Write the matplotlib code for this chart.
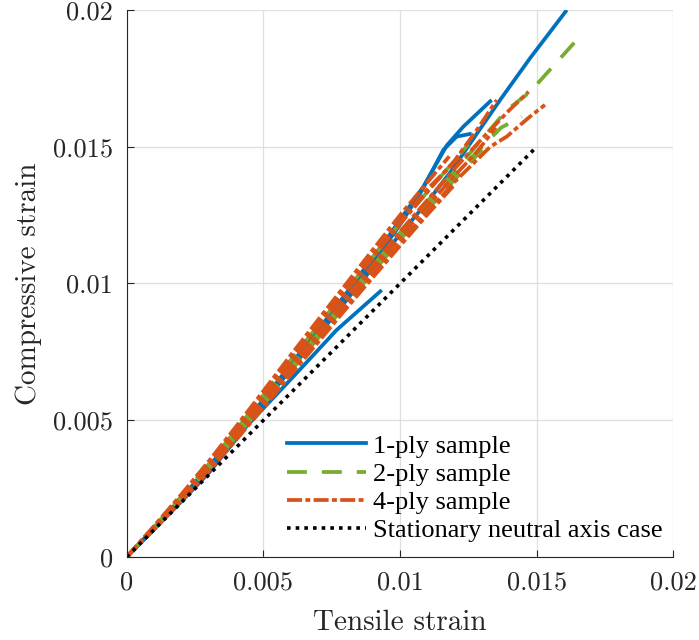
import numpy as np
import matplotlib
matplotlib.use('Agg')
import matplotlib.pyplot as plt
from matplotlib.lines import Line2D

# ---- data (tensile strain, compressive strain) ----
# 1-ply samples
ply1_x = [
    [0, .001, .002, .003, .0044, .0061, .00768, .00933],
    [0, .001, .002, .003, .004, .005, .006, .007, .008, .009, .010, .011, .0119, .0129, .01366, .01475, .0161],
    [0, .001, .002, .003, .004, .005, .006, .007, .008, .009, .00963, .01085, .01171, .01231, .01335],
    [0, .001, .002, .003, .004, .005, .006, .007, .008, .009, .010, .0108, .01158, .01207, .01262],
]
ply1_y = [
    [0, .00101, .00203, .00307, .0048, .0066, .0083, .00976],
    [0, .00104, .0021, .00322, .00442, .00562, .00686, .0081, .00934, .01058, .0118, .01298, .01415, .01561, .01671, .01823, .0200],
    [0, .00106, .00216, .0033, .00452, .00576, .00704, .0083, .0096, .01095, .0118, .01354, .01505, .01573, .01671],
    [0, .00104, .00212, .00324, .00446, .0057, .00696, .0082, .00948, .01075, .01215, .0134, .01488, .01537, .01548],
]

# 2-ply samples
ply2_x = [
    [0, .001, .002, .003, .004, .005, .006, .007, .008, .009, .010, .011, .012, .013, .0139, .01475, .01655],
    [0, .001, .002, .003, .004, .005, .006, .007, .008, .009, .010, .011, .012, .013, .0137, .01445],
    [0, .001, .002, .003, .004, .005, .006, .007, .008, .009, .010, .011, .012, .0125],
    [0, .001, .002, .003, .004, .005, .006, .007, .008, .009, .010, .011, .012, .013],
]
ply2_y = [
    [0, .00105, .00213, .00326, .00448, .0057, .00694, .00818, .00942, .01064, .01186, .013, .01412, .01528, .01634, .017, .019],
    [0, .00104, .00211, .00323, .00444, .00564, .00688, .0081, .00932, .01054, .01174, .01288, .01398, .0150, .0157, .0161],
    [0, .0011, .00222, .0034, .00465, .00592, .0072, .00846, .0097, .01096, .0122, .01335, .0145, .0151],
    [0, .00103, .00209, .0032, .00438, .00557, .0068, .008, .0092, .0104, .0116, .0127, .0138, .0149],
]

# 4-ply samples
ply4_x = [
    [0, .001, .002, .003, .004, .005, .006, .007, .008, .009, .010, .011, .012, .0133, .0139, .01475, .0153],
    [0, .001, .002, .003, .004, .005, .006, .007, .008, .009, .010, .011, .012, .013, .014, .0147],
    [0, .001, .002, .003, .004, .005, .006, .007, .008, .009, .010, .011, .012, .0128, .01354],
    [0, .001, .002, .003, .004, .005, .006, .007, .008, .009, .010, .011, .012, .0128, .0135],
    [0, .001, .002, .003, .004, .005, .006, .007, .008, .009, .010, .011, .0122],
    [0, .001, .002, .003, .004, .005, .006, .007, .008, .009, .010, .011, .012],
    [0, .001, .002, .003, .004, .005, .006, .007, .008, .009, .010, .011, .0118],
]
ply4_y = [
    [0, .00102, .00208, .00318, .00434, .00553, .00675, .00795, .00915, .01035, .0115, .01262, .01372, .0150, .01537, .0161, .01653],
    [0, .00106, .00214, .00328, .0045, .00572, .00697, .0082, .00945, .01068, .0119, .01305, .0142, .0153, .01634, .01701],
    [0, .0011, .00222, .00338, .00462, .00588, .00716, .00842, .00968, .01094, .01218, .01335, .0145, .0156, .01671],
    [0, .00103, .0021, .0032, .0044, .0056, .00683, .00805, .00928, .0105, .0117, .01283, .01395, .0148, .0157],
    [0, .00112, .00226, .00345, .0047, .00598, .00726, .00852, .00978, .01104, .01228, .01345, .01465],
    [0, .00101, .00205, .00313, .00428, .00546, .00666, .00785, .00905, .01022, .01138, .01252, .01362],
    [0, .00113, .00229, .0035, .00477, .00607, .00738, .00867, .00995, .01123, .0125, .0137, .01465],
]

# stationary neutral axis case
neutral_x = [0, 0.015]
neutral_y = [0, 0.015]

labels = ['1-ply sample', '2-ply sample', '4-ply sample', 'Stationary neutral axis case']
ticks = [0, 0.005, 0.01, 0.015, 0.02]
tick_labels = ['0', '0.005', '0.01', '0.015', '0.02']

c_blue = '#0072BD'
c_green = '#77AC30'
c_orange = '#D95319'
c_axis = '#262626'
lw = 2.7
dash_g = (5.3, 4.0)
dash_o = (4.0, 0.9, 1.3, 0.9)
dash_k = (1.0, 1.4)

fig = plt.figure(figsize=(6.99, 6.4), dpi=100, facecolor='w')
ax = fig.add_axes([0.1813, 0.1297, 0.7821, 0.8547])

for x, y in zip(ply1_x, ply1_y):
    ax.plot(x, y, color=c_blue, lw=lw, solid_capstyle='butt')
for x, y in zip(ply2_x, ply2_y):
    ax.plot(x, y, color=c_green, lw=lw, dashes=dash_g, dash_capstyle='butt')
for x, y in zip(ply4_x, ply4_y):
    ax.plot(x, y, color=c_orange, lw=lw, dashes=dash_o, dash_capstyle='butt')
ax.plot(neutral_x, neutral_y, color='k', lw=2.6, dashes=dash_k, dash_capstyle='butt')

ax.set_xlim(0, 0.02)
ax.set_ylim(0, 0.02)
ax.set_xticks(ticks)
ax.set_yticks(ticks)
ax.set_xticklabels(tick_labels, fontfamily='cmr10', fontsize=19, color=c_axis)
ax.set_yticklabels(tick_labels, fontfamily='cmr10', fontsize=19, color=c_axis)
ax.tick_params(direction='in', length=5, width=0.8, color=c_axis, pad=10, top=False, right=False)
ax.grid(True, color='#dfdfdf', lw=0.9)
ax.set_axisbelow(True)
for s in ['top', 'right']:
    ax.spines[s].set_visible(False)
for s in ['left', 'bottom']:
    ax.spines[s].set_color(c_axis)
    ax.spines[s].set_linewidth(0.8)

ax.set_xlabel('Tensile strain', fontfamily='cmr10', fontsize=21, color=c_axis, labelpad=11)
ax.set_ylabel('Compressive strain', fontfamily='cmr10', fontsize=21, color=c_axis, labelpad=8)

handles = [
    Line2D([], [], color=c_blue, lw=lw),
    Line2D([], [], color=c_green, lw=lw, dashes=dash_g),
    Line2D([], [], color=c_orange, lw=lw, dashes=dash_o),
    Line2D([], [], color='k', lw=2.6, dashes=dash_k),
]
ax.legend(handles, labels, loc='lower right', bbox_to_anchor=(0.981, 0.027),
          frameon=False, borderpad=0, borderaxespad=0, handlelength=3.0,
          handletextpad=0.27, labelspacing=0.18,
          prop={'family': 'Liberation Serif', 'size': 19})

fig.savefig('out.png', dpi=100, facecolor='w')
